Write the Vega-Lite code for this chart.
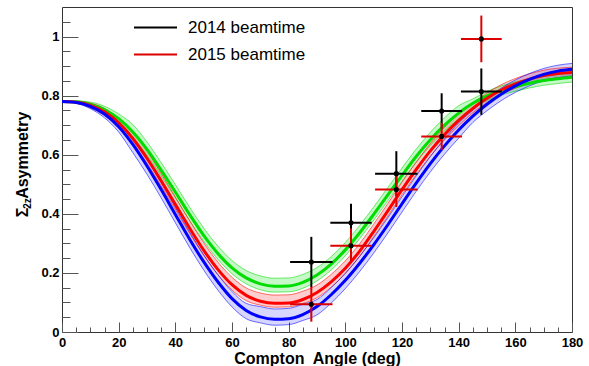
{
  "$schema": "https://vega.github.io/schema/vega-lite/v6.json",
  "width": 510,
  "height": 325,
  "autosize": {"type": "none"},
  "padding": {"left": 62, "top": 7, "right": 17, "bottom": 34},
  "background": "white",
  "config": {
    "view": {"stroke": "#333333", "strokeWidth": 1},
    "font": "Liberation Sans",
    "axis": {"domain": false, "grid": false, "tickColor": "#555555", "tickWidth": 1, "zindex": 1, "labelFlush": false,
             "labelFont": "Liberation Sans", "labelFontWeight": "bold", "labelFontSize": 13, "labelColor": "#000000",
             "titleFont": "Liberation Sans", "titleFontWeight": "bold", "titleFontSize": 16, "titleColor": "#000000"}
  },
  "datasets": {
    "curves": [
      {"angle": 0, "model": "m3", "asym": 0.780, "lo": 0.780, "hi": 0.780},
      {"angle": 5, "model": "m3", "asym": 0.779, "lo": 0.776, "hi": 0.782},
      {"angle": 10, "model": "m3", "asym": 0.770, "lo": 0.762, "hi": 0.778},
      {"angle": 15, "model": "m3", "asym": 0.752, "lo": 0.740, "hi": 0.764},
      {"angle": 20, "model": "m3", "asym": 0.722, "lo": 0.706, "hi": 0.738},
      {"angle": 25, "model": "m3", "asym": 0.677, "lo": 0.657, "hi": 0.702},
      {"angle": 30, "model": "m3", "asym": 0.618, "lo": 0.598, "hi": 0.643},
      {"angle": 35, "model": "m3", "asym": 0.548, "lo": 0.528, "hi": 0.573},
      {"angle": 40, "model": "m3", "asym": 0.474, "lo": 0.454, "hi": 0.499},
      {"angle": 45, "model": "m3", "asym": 0.398, "lo": 0.378, "hi": 0.423},
      {"angle": 50, "model": "m3", "asym": 0.327, "lo": 0.307, "hi": 0.352},
      {"angle": 55, "model": "m3", "asym": 0.266, "lo": 0.246, "hi": 0.291},
      {"angle": 60, "model": "m3", "asym": 0.217, "lo": 0.197, "hi": 0.242},
      {"angle": 65, "model": "m3", "asym": 0.183, "lo": 0.163, "hi": 0.208},
      {"angle": 70, "model": "m3", "asym": 0.163, "lo": 0.143, "hi": 0.190},
      {"angle": 75, "model": "m3", "asym": 0.155, "lo": 0.135, "hi": 0.182},
      {"angle": 80, "model": "m3", "asym": 0.156, "lo": 0.136, "hi": 0.183},
      {"angle": 85, "model": "m3", "asym": 0.168, "lo": 0.148, "hi": 0.195},
      {"angle": 90, "model": "m3", "asym": 0.193, "lo": 0.173, "hi": 0.218},
      {"angle": 95, "model": "m3", "asym": 0.230, "lo": 0.210, "hi": 0.255},
      {"angle": 100, "model": "m3", "asym": 0.278, "lo": 0.258, "hi": 0.303},
      {"angle": 105, "model": "m3", "asym": 0.335, "lo": 0.315, "hi": 0.360},
      {"angle": 110, "model": "m3", "asym": 0.398, "lo": 0.378, "hi": 0.423},
      {"angle": 115, "model": "m3", "asym": 0.464, "lo": 0.444, "hi": 0.489},
      {"angle": 120, "model": "m3", "asym": 0.530, "lo": 0.510, "hi": 0.555},
      {"angle": 125, "model": "m3", "asym": 0.594, "lo": 0.574, "hi": 0.619},
      {"angle": 130, "model": "m3", "asym": 0.651, "lo": 0.631, "hi": 0.676},
      {"angle": 135, "model": "m3", "asym": 0.700, "lo": 0.680, "hi": 0.725},
      {"angle": 140, "model": "m3", "asym": 0.741, "lo": 0.721, "hi": 0.766},
      {"angle": 145, "model": "m3", "asym": 0.774, "lo": 0.758, "hi": 0.789},
      {"angle": 150, "model": "m3", "asym": 0.799, "lo": 0.783, "hi": 0.814},
      {"angle": 155, "model": "m3", "asym": 0.818, "lo": 0.802, "hi": 0.833},
      {"angle": 160, "model": "m3", "asym": 0.831, "lo": 0.815, "hi": 0.846},
      {"angle": 165, "model": "m3", "asym": 0.842, "lo": 0.826, "hi": 0.857},
      {"angle": 170, "model": "m3", "asym": 0.851, "lo": 0.835, "hi": 0.866},
      {"angle": 175, "model": "m3", "asym": 0.857, "lo": 0.841, "hi": 0.872},
      {"angle": 180, "model": "m3", "asym": 0.862, "lo": 0.846, "hi": 0.877},

      {"angle": 0, "model": "m2", "asym": 0.780, "lo": 0.780, "hi": 0.780},
      {"angle": 5, "model": "m2", "asym": 0.778, "lo": 0.775, "hi": 0.781},
      {"angle": 10, "model": "m2", "asym": 0.767, "lo": 0.759, "hi": 0.775},
      {"angle": 15, "model": "m2", "asym": 0.745, "lo": 0.733, "hi": 0.757},
      {"angle": 20, "model": "m2", "asym": 0.708, "lo": 0.692, "hi": 0.724},
      {"angle": 25, "model": "m2", "asym": 0.655, "lo": 0.637, "hi": 0.680},
      {"angle": 30, "model": "m2", "asym": 0.588, "lo": 0.570, "hi": 0.613},
      {"angle": 35, "model": "m2", "asym": 0.512, "lo": 0.494, "hi": 0.537},
      {"angle": 40, "model": "m2", "asym": 0.432, "lo": 0.414, "hi": 0.457},
      {"angle": 45, "model": "m2", "asym": 0.352, "lo": 0.334, "hi": 0.377},
      {"angle": 50, "model": "m2", "asym": 0.277, "lo": 0.259, "hi": 0.302},
      {"angle": 55, "model": "m2", "asym": 0.212, "lo": 0.194, "hi": 0.237},
      {"angle": 60, "model": "m2", "asym": 0.160, "lo": 0.142, "hi": 0.185},
      {"angle": 65, "model": "m2", "asym": 0.124, "lo": 0.106, "hi": 0.149},
      {"angle": 70, "model": "m2", "asym": 0.104, "lo": 0.091, "hi": 0.132},
      {"angle": 75, "model": "m2", "asym": 0.097, "lo": 0.084, "hi": 0.125},
      {"angle": 80, "model": "m2", "asym": 0.098, "lo": 0.085, "hi": 0.126},
      {"angle": 85, "model": "m2", "asym": 0.110, "lo": 0.097, "hi": 0.138},
      {"angle": 90, "model": "m2", "asym": 0.134, "lo": 0.116, "hi": 0.159},
      {"angle": 95, "model": "m2", "asym": 0.170, "lo": 0.152, "hi": 0.195},
      {"angle": 100, "model": "m2", "asym": 0.216, "lo": 0.198, "hi": 0.241},
      {"angle": 105, "model": "m2", "asym": 0.273, "lo": 0.255, "hi": 0.298},
      {"angle": 110, "model": "m2", "asym": 0.340, "lo": 0.322, "hi": 0.365},
      {"angle": 115, "model": "m2", "asym": 0.410, "lo": 0.392, "hi": 0.435},
      {"angle": 120, "model": "m2", "asym": 0.482, "lo": 0.464, "hi": 0.507},
      {"angle": 125, "model": "m2", "asym": 0.550, "lo": 0.532, "hi": 0.575},
      {"angle": 130, "model": "m2", "asym": 0.613, "lo": 0.595, "hi": 0.638},
      {"angle": 135, "model": "m2", "asym": 0.668, "lo": 0.650, "hi": 0.693},
      {"angle": 140, "model": "m2", "asym": 0.716, "lo": 0.698, "hi": 0.741},
      {"angle": 145, "model": "m2", "asym": 0.757, "lo": 0.742, "hi": 0.775},
      {"angle": 150, "model": "m2", "asym": 0.791, "lo": 0.776, "hi": 0.809},
      {"angle": 155, "model": "m2", "asym": 0.819, "lo": 0.804, "hi": 0.837},
      {"angle": 160, "model": "m2", "asym": 0.840, "lo": 0.825, "hi": 0.858},
      {"angle": 165, "model": "m2", "asym": 0.856, "lo": 0.841, "hi": 0.874},
      {"angle": 170, "model": "m2", "asym": 0.868, "lo": 0.853, "hi": 0.886},
      {"angle": 175, "model": "m2", "asym": 0.875, "lo": 0.860, "hi": 0.893},
      {"angle": 180, "model": "m2", "asym": 0.878, "lo": 0.863, "hi": 0.896},

      {"angle": 0, "model": "m1", "asym": 0.780, "lo": 0.780, "hi": 0.780},
      {"angle": 5, "model": "m1", "asym": 0.777, "lo": 0.774, "hi": 0.780},
      {"angle": 10, "model": "m1", "asym": 0.764, "lo": 0.756, "hi": 0.772},
      {"angle": 15, "model": "m1", "asym": 0.738, "lo": 0.725, "hi": 0.751},
      {"angle": 20, "model": "m1", "asym": 0.695, "lo": 0.677, "hi": 0.713},
      {"angle": 25, "model": "m1", "asym": 0.635, "lo": 0.607, "hi": 0.659},
      {"angle": 30, "model": "m1", "asym": 0.562, "lo": 0.534, "hi": 0.586},
      {"angle": 35, "model": "m1", "asym": 0.482, "lo": 0.454, "hi": 0.506},
      {"angle": 40, "model": "m1", "asym": 0.398, "lo": 0.370, "hi": 0.422},
      {"angle": 45, "model": "m1", "asym": 0.315, "lo": 0.287, "hi": 0.339},
      {"angle": 50, "model": "m1", "asym": 0.238, "lo": 0.210, "hi": 0.262},
      {"angle": 55, "model": "m1", "asym": 0.170, "lo": 0.142, "hi": 0.194},
      {"angle": 60, "model": "m1", "asym": 0.113, "lo": 0.085, "hi": 0.137},
      {"angle": 65, "model": "m1", "asym": 0.073, "lo": 0.045, "hi": 0.097},
      {"angle": 70, "model": "m1", "asym": 0.051, "lo": 0.031, "hi": 0.086},
      {"angle": 75, "model": "m1", "asym": 0.043, "lo": 0.023, "hi": 0.078},
      {"angle": 80, "model": "m1", "asym": 0.045, "lo": 0.025, "hi": 0.080},
      {"angle": 85, "model": "m1", "asym": 0.059, "lo": 0.039, "hi": 0.094},
      {"angle": 90, "model": "m1", "asym": 0.086, "lo": 0.058, "hi": 0.110},
      {"angle": 95, "model": "m1", "asym": 0.126, "lo": 0.098, "hi": 0.150},
      {"angle": 100, "model": "m1", "asym": 0.175, "lo": 0.147, "hi": 0.199},
      {"angle": 105, "model": "m1", "asym": 0.232, "lo": 0.204, "hi": 0.256},
      {"angle": 110, "model": "m1", "asym": 0.295, "lo": 0.267, "hi": 0.319},
      {"angle": 115, "model": "m1", "asym": 0.363, "lo": 0.335, "hi": 0.387},
      {"angle": 120, "model": "m1", "asym": 0.434, "lo": 0.406, "hi": 0.458},
      {"angle": 125, "model": "m1", "asym": 0.504, "lo": 0.476, "hi": 0.528},
      {"angle": 130, "model": "m1", "asym": 0.570, "lo": 0.542, "hi": 0.594},
      {"angle": 135, "model": "m1", "asym": 0.630, "lo": 0.602, "hi": 0.654},
      {"angle": 140, "model": "m1", "asym": 0.684, "lo": 0.656, "hi": 0.708},
      {"angle": 145, "model": "m1", "asym": 0.731, "lo": 0.709, "hi": 0.751},
      {"angle": 150, "model": "m1", "asym": 0.771, "lo": 0.749, "hi": 0.791},
      {"angle": 155, "model": "m1", "asym": 0.805, "lo": 0.783, "hi": 0.825},
      {"angle": 160, "model": "m1", "asym": 0.833, "lo": 0.811, "hi": 0.853},
      {"angle": 165, "model": "m1", "asym": 0.855, "lo": 0.833, "hi": 0.875},
      {"angle": 170, "model": "m1", "asym": 0.872, "lo": 0.850, "hi": 0.892},
      {"angle": 175, "model": "m1", "asym": 0.883, "lo": 0.861, "hi": 0.903},
      {"angle": 180, "model": "m1", "asym": 0.889, "lo": 0.867, "hi": 0.909}
    ],
    "points": [
      {"angle": 88, "year": "2014 beamtime", "asym": 0.237, "ylo": 0.152, "yhi": 0.322, "xlo": 80.5, "xhi": 95.5},
      {"angle": 102, "year": "2014 beamtime", "asym": 0.370, "ylo": 0.306, "yhi": 0.434, "xlo": 94.7, "xhi": 109.3},
      {"angle": 118, "year": "2014 beamtime", "asym": 0.536, "ylo": 0.460, "yhi": 0.612, "xlo": 110.5, "xhi": 125.5},
      {"angle": 134, "year": "2014 beamtime", "asym": 0.748, "ylo": 0.688, "yhi": 0.808, "xlo": 126.8, "xhi": 141.2},
      {"angle": 148, "year": "2014 beamtime", "asym": 0.814, "ylo": 0.735, "yhi": 0.892, "xlo": 140.8, "xhi": 155.2},
      {"angle": 88, "year": "2015 beamtime", "asym": 0.094, "ylo": 0.035, "yhi": 0.153, "xlo": 80.5, "xhi": 95.5},
      {"angle": 102, "year": "2015 beamtime", "asym": 0.292, "ylo": 0.234, "yhi": 0.350, "xlo": 94.7, "xhi": 109.3},
      {"angle": 118, "year": "2015 beamtime", "asym": 0.482, "ylo": 0.423, "yhi": 0.541, "xlo": 110.5, "xhi": 125.5},
      {"angle": 134, "year": "2015 beamtime", "asym": 0.662, "ylo": 0.616, "yhi": 0.708, "xlo": 126.8, "xhi": 141.2},
      {"angle": 148, "year": "2015 beamtime", "asym": 0.992, "ylo": 0.913, "yhi": 1.071, "xlo": 140.8, "xhi": 155.2}
    ]
  },
  "resolve": {"axis": {"x": "independent", "y": "independent"}},
  "layer": [
    {
      "data": {"name": "curves"},
      "mark": {"type": "area", "interpolate": "monotone"},
      "encoding": {
        "x": {"field": "angle", "type": "quantitative", "scale": {"domain": [0, 180], "nice": false},
              "axis": {"orient": "bottom", "values": [5,10,15,25,30,35,45,50,55,65,70,75,85,90,95,105,110,115,125,130,135,145,150,155,165,170,175],
                       "tickSize": -5, "labels": false, "title": null}},
        "y": {"field": "lo", "type": "quantitative", "scale": {"domain": [0, 1.1], "nice": false, "zero": false},
              "axis": {"orient": "left", "values": [0.05,0.1,0.15,0.25,0.3,0.35,0.45,0.5,0.55,0.65,0.7,0.75,0.85,0.9,0.95,1.05],
                       "tickSize": -8, "labels": false, "title": "2z", "titleFontSize": 10, "titleAngle": -90,
                       "titleX": -30, "titleY": 196, "titleAlign": "center", "titleBaseline": "bottom"}},
        "y2": {"field": "hi"},
        "color": {"field": "model", "type": "nominal", "legend": null,
                  "scale": {"domain": ["m1", "m2", "m3"], "range": ["#0000ff", "#ff0000", "#00dd00"]}},
        "fillOpacity": {"field": "model", "type": "nominal", "legend": null,
                        "scale": {"domain": ["m1", "m2", "m3"], "range": [0.16, 0.22, 0.3]}}
      }
    },
    {
      "data": {"name": "curves"},
      "mark": {"type": "line", "strokeWidth": 0.8, "opacity": 0.7, "interpolate": "monotone"},
      "encoding": {
        "x": {"field": "angle", "type": "quantitative", "axis": null},
        "y": {"field": "lo", "type": "quantitative", "axis": null},
        "color": {"field": "model", "type": "nominal", "legend": null}
      }
    },
    {
      "data": {"name": "curves"},
      "mark": {"type": "line", "strokeWidth": 0.8, "opacity": 0.7, "interpolate": "monotone"},
      "encoding": {
        "x": {"field": "angle", "type": "quantitative", "axis": null},
        "y": {"field": "hi", "type": "quantitative", "axis": null},
        "color": {"field": "model", "type": "nominal", "legend": null}
      }
    },
    {
      "data": {"name": "curves"},
      "mark": {"type": "line", "strokeWidth": 3, "interpolate": "monotone"},
      "encoding": {
        "x": {"field": "angle", "type": "quantitative",
              "axis": {"orient": "bottom", "values": [0,20,40,60,80,100,120,140,160,180], "tickSize": -10, "labelPadding": 14,
                       "title": "Compton\u00a0 Angle (deg)", "titlePadding": 1}},
        "y": {"field": "asym", "type": "quantitative",
              "axis": {"orient": "left", "values": [0,0.2,0.4,0.6,0.8,1], "format": "~g", "tickSize": -16, "labelPadding": 19,
                       "title": "Σ\u00a0\u00a0Asymmetry", "titleAngle": -90, "titleX": -32, "titleY": 157,
                       "titleAlign": "center", "titleBaseline": "bottom"}},
        "color": {"field": "model", "type": "nominal", "legend": null}
      }
    },
    {
      "data": {"name": "points"},
      "mark": {"type": "rule", "strokeWidth": 2},
      "encoding": {
        "x": {"field": "xlo", "type": "quantitative", "axis": null},
        "x2": {"field": "xhi"},
        "y": {"field": "asym", "type": "quantitative", "axis": null},
        "stroke": {"field": "year", "type": "nominal",
                   "scale": {"domain": ["2014 beamtime", "2015 beamtime"], "range": ["#000000", "#dd0000"]},
                   "legend": {"title": null, "orient": "none", "legendX": 71, "legendY": 7, "symbolType": "stroke",
                              "symbolSize": 1849, "symbolStrokeWidth": 2, "clipHeight": 27, "rowPadding": 0,
                              "labelFont": "Liberation Sans", "labelFontSize": 17, "labelColor": "#000000", "labelOffset": 10, "padding": 0}}
      }
    },
    {
      "data": {"name": "points"},
      "mark": {"type": "rule", "strokeWidth": 2},
      "encoding": {
        "x": {"field": "angle", "type": "quantitative", "axis": null},
        "y": {"field": "ylo", "type": "quantitative", "axis": null},
        "y2": {"field": "yhi"},
        "stroke": {"field": "year", "type": "nominal"}
      }
    },
    {
      "data": {"name": "points"},
      "mark": {"type": "point", "shape": "circle", "filled": true, "size": 26, "color": "#000000", "opacity": 1},
      "encoding": {
        "x": {"field": "angle", "type": "quantitative", "axis": null},
        "y": {"field": "asym", "type": "quantitative", "axis": null}
      }
    }
  ]
}
